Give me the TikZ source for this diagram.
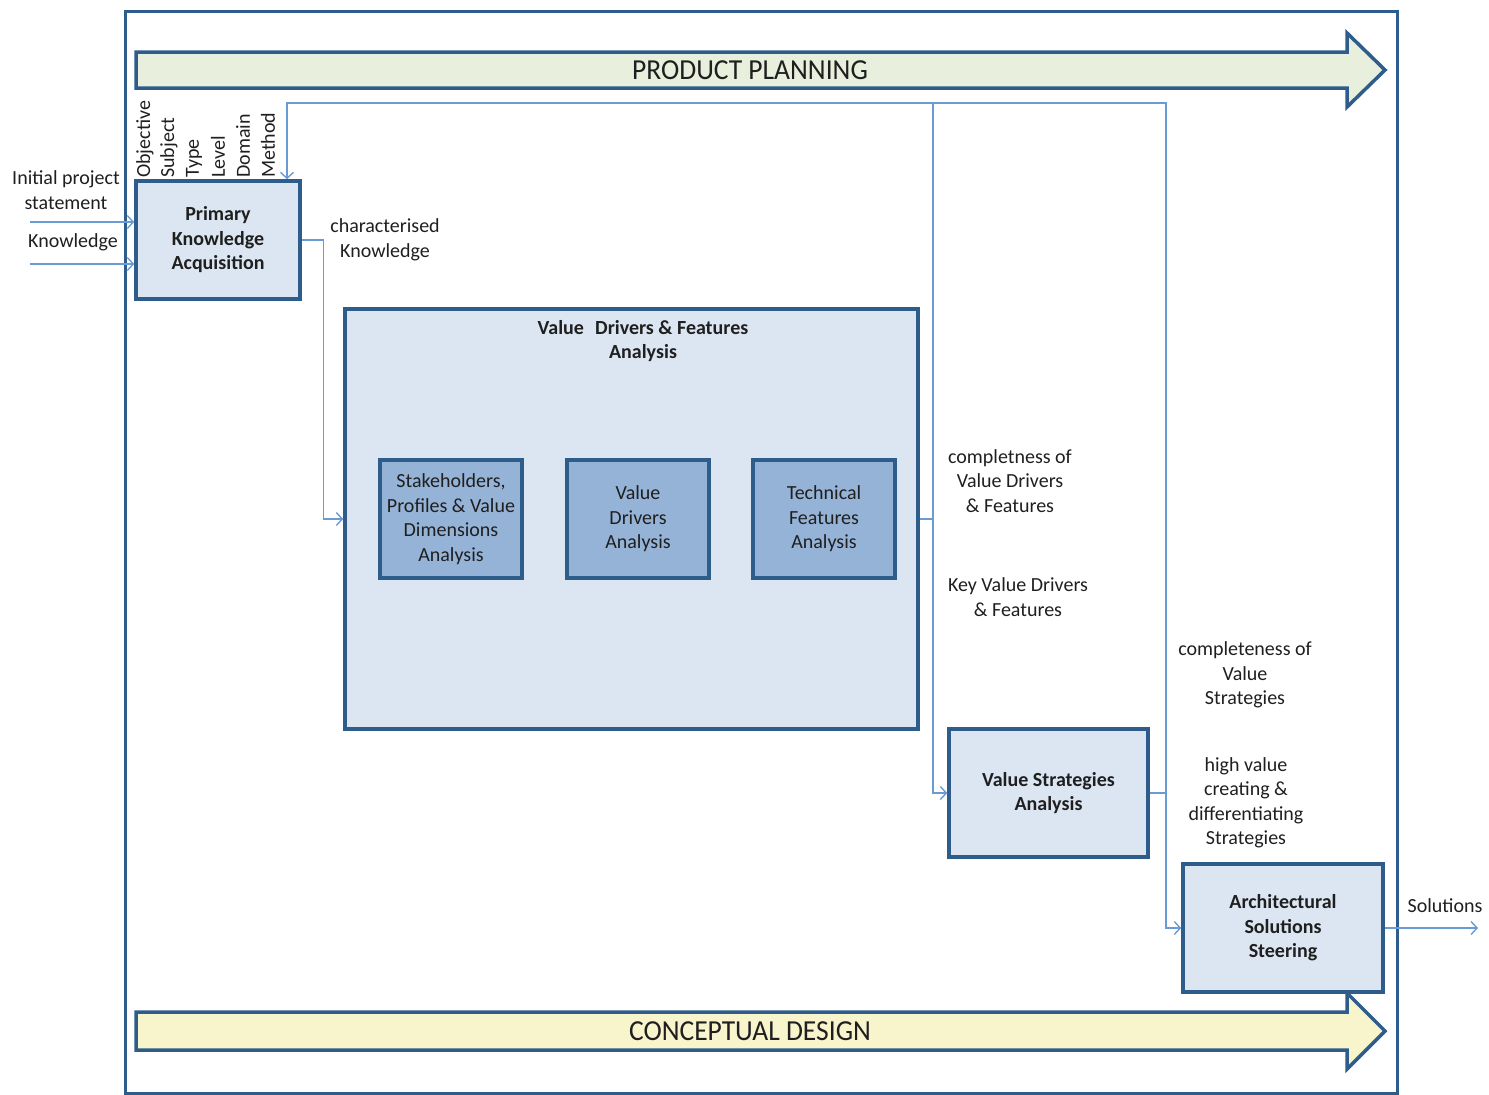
\documentclass[tikz,border=0pt]{standalone}
\usepackage{fontspec}
\setmainfont{Carlito}
\usetikzlibrary{arrows.meta}
\definecolor{dkb}{HTML}{2E5D8C}
\definecolor{lfill}{HTML}{DCE6F2}
\definecolor{mfill}{HTML}{95B3D7}
\definecolor{conn}{HTML}{6A9BD3}
\definecolor{gfill}{HTML}{E8EFDC}
\definecolor{yfill}{HTML}{F8F4CC}
\definecolor{txt}{HTML}{1F1F1F}
\tikzset{
  lbl/.style={font=\fontsize{20}{24.5}\selectfont, text=txt, align=center, inner sep=0pt},
  box/.style={draw=dkb, line width=3.5pt, fill=lfill, align=center, text=txt, font=\fontsize{20}{24.5}\selectfont\bfseries, inner sep=0pt},
  ibox/.style={draw=dkb, line width=3.5pt, fill=mfill, align=center, text=txt, font=\fontsize{20}{24.5}\selectfont, inner sep=0pt, minimum width=142pt, minimum height=118pt},
  cline/.style={draw=conn, line width=1.4pt},
  conn/.style={cline, -{Straight Barb[length=6pt,width=13pt,line width=1.4pt]}},
  bigarrow/.style={draw=dkb, line width=3.5pt, line join=miter},
  bigtext/.style={font=\fontsize{29}{34}\selectfont, text=txt, inner sep=0pt, xscale=0.95},
}
\begin{document}
\begin{tikzpicture}[x=1pt,y=-1pt]
\useasboundingbox (0,0) rectangle (1489,1095);
% outer frame
\draw[dkb, line width=3pt] (125,11) rectangle (1397,1093);
% product planning arrow
\draw[bigarrow, fill=gfill] (136,52) -- (1347,52) -- (1347,33) -- (1385,70) -- (1347,107) -- (1347,88) -- (136,88) -- cycle;
\node[bigtext] (pp) at (750,70) {PRODUCT PLANNING};
% conceptual design arrow
\draw[bigarrow, fill=yfill] (136,1012) -- (1347,1012) -- (1347,993) -- (1385,1031) -- (1347,1069) -- (1347,1050) -- (136,1050) -- cycle;
\node[bigtext] (cd) at (750,1031) {CONCEPTUAL DESIGN};
% boxes
\node[box, minimum width=164pt, minimum height=118pt] (pka) at (218,240) {Primary\\Knowledge\\Acquisition};
\node[box, minimum width=573pt, minimum height=420pt] (vdf) at (631.5,519) {};
\node[lbl, font=\fontsize{20}{24.5}\selectfont\bfseries] (vdft) at (643,341) {Value\,\, Drivers \& Features\\Analysis};
\node[ibox] (sh) at (451,519) {Stakeholders,\\Profiles \& Value\\Dimensions\\Analysis};
\node[ibox] (vd) at (638,519) {Value\\Drivers\\Analysis};
\node[ibox] (tf) at (824,519) {Technical\\Features\\Analysis};
\node[box, minimum width=199pt, minimum height=128pt] (vsa) at (1048.5,793) {Value Strategies\\Analysis};
\node[box, minimum width=200pt, minimum height=128pt] (ass) at (1283,928) {Architectural\\Solutions\\Steering};
% vertical labels
\foreach \t/\xx in {Objective/145,Subject/169,Type/194,Level/218,Domain/243,Method/268}
  \node[lbl, rotate=90, anchor=west] (v\t) at (\xx,178) {\t};
% labels
\node[lbl] (l1) at (66,190) {Initial project\\statement};
\node[lbl] (l2) at (73,242) {Knowledge};
\node[lbl] (l3) at (385,240) {characterised\\Knowledge};
\node[lbl] (l4) at (1010,481) {completness of\\Value Drivers\\\& Features};
\node[lbl] (l5) at (1018,597) {Key Value Drivers\\\& Features};
\node[lbl] (l6) at (1245,675) {completeness of\\Value\\Strategies};
\node[lbl] (l7) at (1246,803) {high value\\creating \&\\differentiating\\Strategies};
\node[lbl] (l8) at (1445,906) {Solutions};
% connectors
\coordinate (in1) at (30,222);
\coordinate (in2) at (30,264);
\draw[conn] (in1) -- (in1 -| pka.west);
\draw[conn] (in2) -- (in2 -| pka.west);
\draw[conn] (pka.east) -- ++(22,0) |- (vdf.west);
\coordinate (j1) at (933,519);
\coordinate (fb) at (287,103);
\coordinate (tr) at (1166,103);
\coordinate (j2) at (1166,793);
\draw[cline] (vdf.east) -- (j1);
\draw[conn] (j1) |- (fb) -- (fb |- pka.north);
\draw[conn] (j1) |- (vsa.west);
\draw[cline] (vsa.east) -- (j2);
\draw[cline] (j2) -- (tr) -- (tr -| j1);
\draw[conn] (j2) |- (ass.west);
\coordinate (out) at (1478,928);
\draw[conn] (ass.east) -- (out);
\end{tikzpicture}
\end{document}
